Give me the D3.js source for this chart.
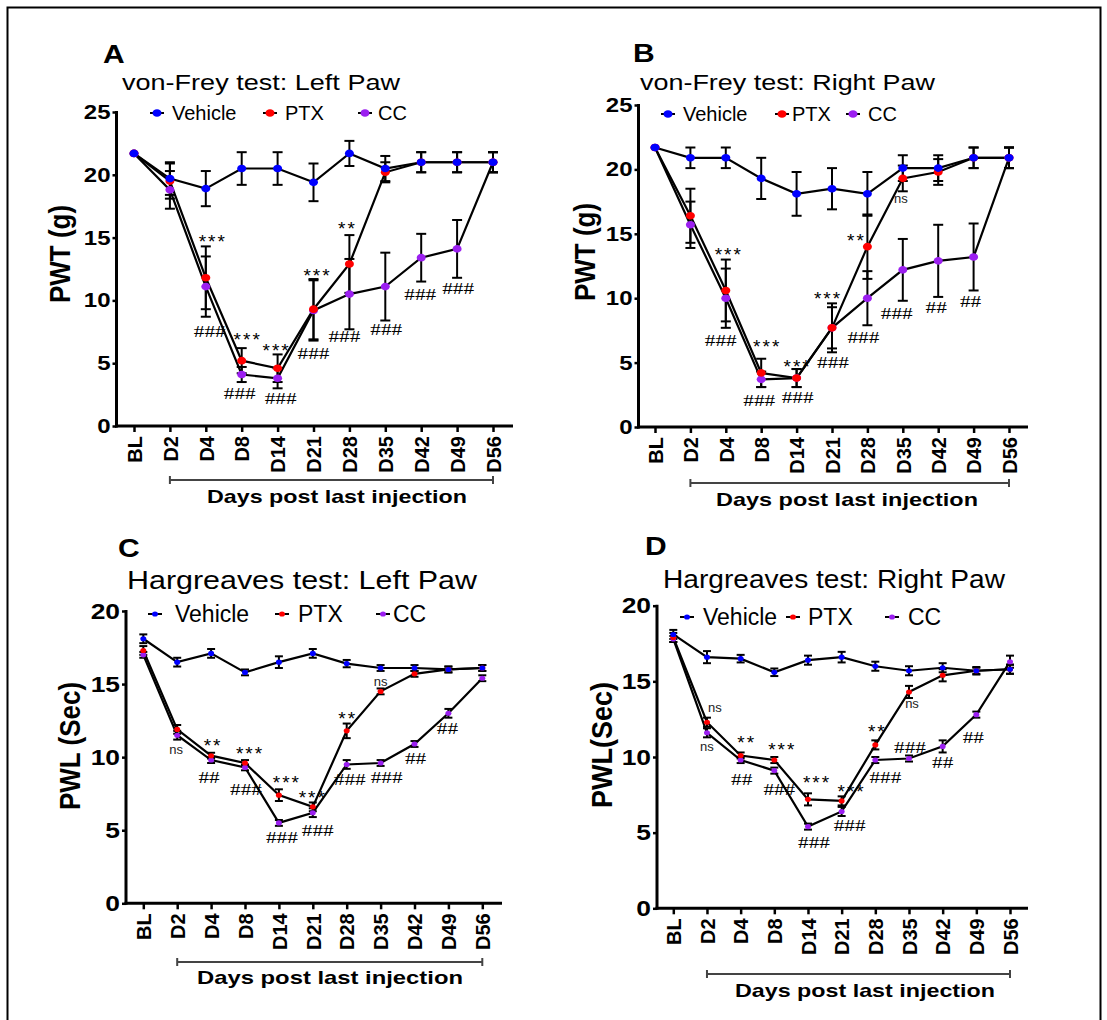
<!DOCTYPE html>
<html>
<head>
<meta charset="utf-8">
<script src="https://cdn.jsdelivr.net/npm/d3@7"></script>
<style>
  body { margin: 0; background: #fff; }
  svg { display: block; }
  text { font-family: 'Liberation Sans', Arial, sans-serif; fill: #000; }
</style>
</head>
<body>
<svg id="chart" width="1107" height="1020"></svg>
<script>
const days = ['BL', 'D2', 'D4', 'D8', 'D14', 'D21', 'D28', 'D35', 'D42', 'D49', 'D56']
const groups = ['Vehicle', 'PTX', 'CC']
const groupColors = ['#0000ff', '#ff0000', '#9b1ff0']

// A: von-Frey left paw, PWT (g)
const aVehicle = [21.7, 19.7, 18.9, 20.5, 20.5, 19.4, 21.7, 20.5, 21.0, 21.0, 21.0]
const aVehicleErr = [0, 1.3, 1.4, 1.3, 1.3, 1.5, 1.0, 1.0, 0.8, 0.8, 0.8]
const aPTX = [21.7, 19.5, 11.8, 5.2, 4.6, 9.3, 12.9, 20.2, 21.0, 21.0, 21.0]
const aPTXErr = [0, 1.4, 2.5, 1.0, 1.1, 2.4, 2.3, 0.8, 0.8, 0.8, 0.8]
const aCC = [21.7, 18.8, 11.1, 4.1, 3.8, 9.2, 10.5, 11.1, 13.4, 14.1, 21.0]
const aCCErr = [0, 1.5, 2.4, 0.6, 0.8, 2.4, 2.8, 2.7, 1.9, 2.3, 0.8]
// [day index, value, label, dx]
const aNotes = [
  [2, 15.0, '***', 7], [2, 7.6, '###', 4],
  [3, 7.2, '***', 6], [3, 2.6, '###', -2],
  [4, 6.3, '***', -1], [4, 2.2, '###', 3],
  [5, 12.3, '***', 4], [5, 5.8, '###', 0],
  [6, 16.0, '**', -2], [6, 7.2, '###', -5],
  [7, 7.7, '###', 1],
  [8, 10.5, '###', -1],
  [9, 11.0, '###', 1]
]

// B: von-Frey right paw
const bVehicle = [21.7, 20.9, 20.9, 19.3, 18.1, 18.5, 18.1, 20.1, 20.1, 20.9, 20.9]
const bVehicleErr = [0, 0.8, 0.8, 1.6, 1.7, 1.6, 1.7, 1.0, 1.0, 0.8, 0.8]
const bPTX = [21.7, 16.4, 10.6, 4.2, 3.8, 7.7, 14.0, 19.3, 19.8, 20.9, 20.9]
const bPTXErr = [0, 2.1, 2.4, 1.1, 0.7, 1.9, 2.5, 1.0, 1.0, 0.8, 0.8]
const bCC = [21.7, 15.7, 10.0, 3.7, 3.8, 7.7, 10.0, 12.2, 12.9, 13.2, 20.9]
const bCCErr = [0, 1.8, 2.3, 0.6, 0.7, 1.6, 2.1, 2.4, 2.8, 2.6, 0.8]
const bNotes = [
  [2, 13.7, '***', 3], [2, 6.75, '###', -5],
  [3, 6.5, '***', 6], [3, 2.1, '###', -2],
  [4, 5.0, '***', 1], [4, 2.3, '###', 1],
  [5, 10.25, '***', -4], [5, 5.05, '###', 1],
  [6, 14.75, '**', -11], [6, 7.0, '###', -4],
  [7, 17.7, 'ns', -2], [7, 8.85, '###', -6],
  [8, 9.3, '##', -2],
  [9, 9.8, '##', -3]
]

// C: Hargreaves left paw, PWL (Sec)
const cVehicle = [18.1, 16.5, 17.1, 15.8, 16.5, 17.1, 16.4, 16.1, 16.1, 16.0, 16.1]
const cVehicleErr = [0.3, 0.3, 0.3, 0.2, 0.4, 0.3, 0.25, 0.2, 0.2, 0.2, 0.2]
const cPTX = [17.3, 11.9, 10.1, 9.6, 7.4, 6.6, 11.8, 14.5, 15.7, 16.0, 16.1]
const cPTXErr = [0.3, 0.3, 0.2, 0.2, 0.4, 0.3, 0.5, 0.2, 0.2, 0.2, 0.2]
const cCC = [17.0, 11.5, 9.8, 9.3, 5.5, 6.2, 9.5, 9.6, 10.9, 13.0, 15.4]
const cCCErr = [0.2, 0.3, 0.2, 0.2, 0.2, 0.3, 0.3, 0.2, 0.2, 0.3, 0.2]
const cNotes = [
  [1, 10.5, 'ns', -1],
  [2, 11.05, '**', 2], [2, 8.65, '##', -2],
  [3, 10.5, '***', 5], [3, 7.8, '###', 1],
  [4, 8.5, '***', 8], [4, 4.55, '###', 3],
  [5, 7.5, '***', 0], [5, 5.0, '###', 5],
  [6, 12.9, '**', 1], [6, 8.5, '###', 3],
  [7, 15.15, 'ns', 0], [7, 8.65, '###', 6],
  [8, 9.95, '##', 1],
  [9, 12.0, '##', -1]
]

// D: Hargreaves right paw
const dVehicle = [18.1, 16.6, 16.5, 15.6, 16.4, 16.6, 16.0, 15.7, 15.9, 15.7, 15.8]
const dVehicleErr = [0.3, 0.4, 0.25, 0.25, 0.3, 0.35, 0.3, 0.3, 0.3, 0.25, 0.3]
const dPTX = [17.9, 12.3, 10.1, 9.8, 7.2, 7.1, 10.8, 14.3, 15.4, 15.7, 15.8]
const dPTXErr = [0.3, 0.3, 0.2, 0.2, 0.4, 0.3, 0.3, 0.4, 0.4, 0.2, 0.3]
const dCC = [17.8, 11.6, 9.8, 9.1, 5.4, 6.4, 9.8, 9.9, 10.7, 12.8, 16.3]
const dCCErr = [0.2, 0.3, 0.2, 0.2, 0.2, 0.3, 0.2, 0.2, 0.4, 0.2, 0.4]
const dNotes = [
  [1, 13.25, 'ns', 8], [1, 10.65, 'ns', 0],
  [2, 11.2, '**', 6], [2, 8.55, '##', 1],
  [3, 10.7, '***', 8], [3, 7.9, '###', 5],
  [4, 8.55, '***', 9], [4, 4.4, '###', 6],
  [5, 7.95, '***', 10], [5, 5.5, '###', 8],
  [6, 11.9, '**', 2], [6, 8.7, '###', 10],
  [7, 13.5, 'ns', 3], [7, 10.65, '###', 1],
  [8, 9.7, '##', 0],
  [9, 11.3, '##', -3]
]

const panels = [
  {
    id: 'A', title: 'von-Frey test: Left Paw', ylabel: 'PWT (g)', yMax: 25,
    series: [aVehicle, aPTX, aCC], errs: [aVehicleErr, aPTXErr, aCCErr], notes: aNotes,
    axisX: 116.5, axisEnd: 513, x0: 134, x10: 493, y0: 426, yTop: 112,
    letter: [103, 63], titlePos: [122, 90, 278], titleSize: 22,
    ylab: [70, 254, 26], legY: 113, legMarks: [157, 270, 365], legTexts: [172, 285, 378], legSize: 20,
    xlab: [337, 503, 260], bracketY: 480, dot: 4.5, cap: 5, ytSize: 20
  },
  {
    id: 'B', title: 'von-Frey test: Right Paw', ylabel: 'PWT (g)', yMax: 25,
    series: [bVehicle, bPTX, bCC], errs: [bVehicleErr, bPTXErr, bCCErr], notes: bNotes,
    axisX: 638.5, axisEnd: 1028, x0: 655, x10: 1009, y0: 427, yTop: 105,
    letter: [633, 62], titlePos: [640, 90, 295], titleSize: 22,
    ylab: [595, 252, 26], legY: 114, legMarks: [668, 782, 853], legTexts: [683, 792, 868], legSize: 20,
    xlab: [847, 506, 262], bracketY: 483, dot: 4.5, cap: 5, ytSize: 20
  },
  {
    id: 'C', title: 'Hargreaves test: Left Paw', ylabel: 'PWL (Sec)', yMax: 20,
    series: [cVehicle, cPTX, cCC], errs: [cVehicleErr, cPTXErr, cCCErr], notes: cNotes,
    axisX: 126, axisEnd: 502, x0: 143.3, x10: 482.3, y0: 903.3, yTop: 611,
    letter: [118, 557], titlePos: [127, 589, 350], titleSize: 25,
    ylab: [80, 746, 26], legY: 614, legMarks: [155, 282, 383], legTexts: [175, 298, 393], legSize: 23,
    xlab: [330, 984, 266], bracketY: 962, dot: 3, cap: 4, ytSize: 22
  },
  {
    id: 'D', title: 'Hargreaves test: Right Paw', ylabel: 'PWL(Sec)', yMax: 20,
    series: [dVehicle, dPTX, dCC], errs: [dVehicleErr, dPTXErr, dCCErr], notes: dNotes,
    axisX: 657, axisEnd: 1028, x0: 673.3, x10: 1010, y0: 908.3, yTop: 605.7,
    letter: [645, 555], titlePos: [663, 588, 342], titleSize: 25,
    ylab: [612, 745, 27], legY: 617, legMarks: [687, 793, 892], legTexts: [703, 808, 908], legSize: 23,
    xlab: [865, 997, 260], bracketY: 974, dot: 3, cap: 4, ytSize: 22
  }
]

const svg = d3.select('#chart')
svg.append('rect').attr('width', 1107).attr('height', 1020).attr('fill', '#fff')
// outer frame (open at the bottom)
svg.append('path').attr('d', 'M7.5,1020V7.5H1100.5V1020').attr('fill', 'none').attr('stroke', '#000').attr('stroke-width', 2)

function drawPanel(p) {
  const g = svg.append('g')
  const x = d3.scalePoint().domain(days).range([p.x0, p.x10])
  const y = d3.scaleLinear().domain([0, p.yMax]).range([p.y0, p.yTop])

  // panel letter and title
  g.append('text')
    .attr('transform', `translate(${p.letter[0]},${p.letter[1]}) scale(1.2,1)`)
    .style('font-size', '25px').style('font-weight', 'bold')
    .text(p.id)
  g.append('text')
    .attr('x', p.titlePos[0]).attr('y', p.titlePos[1])
    .attr('textLength', p.titlePos[2]).attr('lengthAdjust', 'spacingAndGlyphs')
    .style('font-size', p.titleSize + 'px')
    .text(p.title)

  // x axis
  const xAxis = g.append('g')
    .attr('transform', `translate(0,${p.y0})`)
    .call(d3.axisBottom(x).tickSize(6))
  xAxis.select('.domain').remove()
  xAxis.selectAll('.tick line').attr('stroke', '#000').attr('stroke-width', 2.5)
  xAxis.selectAll('.tick text')
    .attr('transform', 'rotate(-90)')
    .attr('x', -10).attr('y', 0).attr('dy', '0.36em')
    .attr('text-anchor', 'end')
    .style('font-size', '20px').style('font-weight', 'bold')
  g.append('line')
    .attr('x1', p.axisX - 1.5).attr('x2', p.axisEnd)
    .attr('y1', p.y0).attr('y2', p.y0)
    .attr('stroke', '#000').attr('stroke-width', 3)

  // y axis
  const yAxis = g.append('g')
    .attr('transform', `translate(${p.axisX},0)`)
    .call(d3.axisLeft(y).tickValues(d3.range(0, p.yMax + 1, 5)).tickSize(4).tickPadding(1))
  yAxis.select('.domain').remove()
  yAxis.selectAll('.tick line').attr('stroke', '#000').attr('stroke-width', 2.5)
  yAxis.selectAll('.tick text')
    .attr('transform', 'scale(1.2,1)')
    .style('font-size', p.ytSize + 'px').style('font-weight', 'bold')
  g.append('line')
    .attr('x1', p.axisX).attr('x2', p.axisX)
    .attr('y1', p.y0 + 1.5).attr('y2', p.yTop - 1)
    .attr('stroke', '#000').attr('stroke-width', 3)

  g.append('text')
    .attr('transform', `translate(${p.ylab[0]},${p.ylab[1]}) scale(1.1,1) rotate(-90)`)
    .attr('text-anchor', 'middle')
    .style('font-size', p.ylab[2] + 'px').style('font-weight', 'bold')
    .text(p.ylabel)

  // bracket + x label
  const bx1 = x('D2'), bx2 = x('D56')
  g.append('path')
    .attr('d', `M${bx1},${p.bracketY - 4}V${p.bracketY + 4}M${bx1},${p.bracketY}H${bx2}M${bx2},${p.bracketY - 4}V${p.bracketY + 4}`)
    .attr('fill', 'none').attr('stroke', '#444').attr('stroke-width', 2)
  g.append('text')
    .attr('x', p.xlab[0]).attr('y', p.xlab[1])
    .attr('text-anchor', 'middle')
    .attr('textLength', p.xlab[2]).attr('lengthAdjust', 'spacingAndGlyphs')
    .style('font-size', '19px').style('font-weight', 'bold')
    .text('Days post last injection')

  // legend
  groups.forEach((name, i) => {
    const m = p.legMarks[i]
    g.append('line')
      .attr('x1', m - 7).attr('x2', m + 7).attr('y1', p.legY).attr('y2', p.legY)
      .attr('stroke', '#000').attr('stroke-width', 2)
    g.append('ellipse')
      .attr('cx', m).attr('cy', p.legY).attr('rx', p.dot).attr('ry', p.dot * 0.85)
      .attr('fill', groupColors[i])
    g.append('text')
      .attr('x', p.legTexts[i]).attr('y', p.legY).attr('dy', '0.36em')
      .style('font-size', p.legSize + 'px')
      .text(name)
  })

  // lines
  const line = d3.line().x((d, i) => x(days[i])).y((d) => y(d))
  p.series.forEach((s) => {
    g.append('path').datum(s).attr('d', line)
      .attr('fill', 'none').attr('stroke', '#000').attr('stroke-width', 2.2)
  })

  // error bars
  p.series.forEach((s, k) => {
    const err = p.errs[k]
    const bars = g.append('g').attr('stroke', '#000').attr('stroke-width', 2)
    s.forEach((v, i) => {
      if (!err[i]) return
      const cx = x(days[i])
      bars.append('line').attr('x1', cx).attr('x2', cx).attr('y1', y(v - err[i])).attr('y2', y(v + err[i]))
      bars.append('line').attr('x1', cx - p.cap).attr('x2', cx + p.cap).attr('y1', y(v - err[i])).attr('y2', y(v - err[i]))
      bars.append('line').attr('x1', cx - p.cap).attr('x2', cx + p.cap).attr('y1', y(v + err[i])).attr('y2', y(v + err[i]))
    })
  })

  // markers: CC under PTX under Vehicle
  ;[2, 1, 0].forEach((k) => {
    g.append('g').selectAll('ellipse')
      .data(p.series[k])
      .join('ellipse')
      .attr('cx', (d, i) => x(days[i]))
      .attr('cy', (d) => y(d))
      .attr('rx', p.dot).attr('ry', p.dot * 0.85)
      .attr('fill', groupColors[k])
  })

  // significance marks
  p.notes.forEach(([di, v, label, dx]) => {
    const tx = x(days[di]) + dx
    const ty = y(v)
    const t = g.append('text').attr('text-anchor', 'middle').text(label)
    if (label[0] === '#') {
      t.attr('transform', `translate(${tx},${ty + 6}) scale(1.25,1)`)
        .style('font-family', "'Liberation Serif', 'Times New Roman', serif")
        .style('font-size', '17px')
    } else if (label[0] === '*') {
      t.attr('transform', `translate(${tx},${ty + 10})`)
        .style('font-size', '19px').style('letter-spacing', '2px')
    } else {
      t.attr('transform', `translate(${tx},${ty + 4})`)
        .style('font-size', '13px').style('fill', '#222')
    }
  })
}

panels.forEach(drawPanel)
</script>
</body>
</html>
